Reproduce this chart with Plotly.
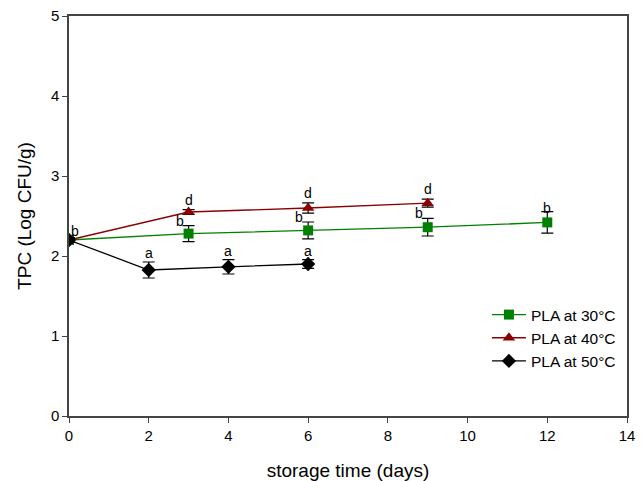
import plotly.graph_objects as go

# Data
days_30 = [0, 3, 6, 9, 12]
tpc_30 = [2.20, 2.28, 2.32, 2.36, 2.42]
err_30 = [0.03, 0.10, 0.105, 0.11, 0.135]
lab_30 = ["", "b", "b", "b", "b"]

days_40 = [0, 3, 6, 9]
tpc_40 = [2.20, 2.55, 2.60, 2.66]
err_40 = [0.03, 0.03, 0.065, 0.05]
lab_40 = ["b", "d", "d", "d"]

days_50 = [0, 2, 4, 6]
tpc_50 = [2.20, 1.825, 1.865, 1.90]
err_50 = [0.03, 0.10, 0.09, 0.055]
lab_50 = ["", "a", "a", "a"]

x_ticks = [0, 2, 4, 6, 8, 10, 12, 14]
y_ticks = [0, 1, 2, 3, 4, 5]

FONT = "Liberation Sans, Arial, sans-serif"

fig = go.Figure()

def add_series(x, y, e, name, color, symbol, size):
    fig.add_trace(go.Scatter(
        x=x, y=y, name=name, mode="lines+markers",
        line=dict(color=color, width=1.3),
        marker=dict(color=color, symbol=symbol, size=size, line=dict(width=0)),
        error_y=dict(type="data", array=e, visible=True, color="black",
                     thickness=1.2, width=6),
    ))

add_series(days_30, tpc_30, err_30, "PLA at 30°C", "#008000", "square", 10)
add_series(days_40, tpc_40, err_40, "PLA at 40°C", "#8B0000", "triangle-up", 11)
add_series(days_50, tpc_50, err_50, "PLA at 50°C", "black", "diamond", 11)

LETTER_FONT = dict(family=FONT, size=14, color="black")

for i, (xi, yi, ei, li) in enumerate(zip(days_30, tpc_30, err_30, lab_30)):
    if not li:
        continue
    last = i == len(days_30) - 1
    fig.add_annotation(x=xi, y=yi + ei, text=li, showarrow=False,
                       xref="x", yref="y", yanchor="bottom",
                       xshift=(0 if last else -9), yshift=(-6 if last else -5),
                       font=LETTER_FONT)
for i, (xi, yi, ei, li) in enumerate(zip(days_40, tpc_40, err_40, lab_40)):
    fig.add_annotation(x=xi, y=yi + ei, text=li, showarrow=False,
                       xref="x", yref="y", yanchor="bottom",
                       xshift=(6 if i == 0 else 0), yshift=(-3 if i == 0 else 0),
                       font=LETTER_FONT)
for xi, yi, ei, li in zip(days_50, tpc_50, err_50, lab_50):
    if not li:
        continue
    fig.add_annotation(x=xi, y=yi + ei, text=li, showarrow=False,
                       xref="x", yref="y", yanchor="bottom", yshift=-1,
                       font=LETTER_FONT)

axis_common = dict(
    showline=True, linecolor="#444444", linewidth=1.5, mirror=True,
    ticks="outside", ticklen=5, tickcolor="#444444", tickwidth=1,
    showgrid=False, zeroline=False, automargin=False,
    tickfont=dict(family=FONT, size=15, color="black"),
)

fig.update_layout(
    width=644, height=481,
    margin=dict(l=69, r=17, t=16, b=65),
    paper_bgcolor="white", plot_bgcolor="white",
    font=dict(family=FONT, color="black"),
    xaxis=dict(range=[0, 14], tickvals=x_ticks,
               title=dict(text="storage time (days)", font=dict(family=FONT, size=19), standoff=21),
               **axis_common),
    yaxis=dict(range=[0, 5], tickvals=y_ticks,
               title=dict(text="TPC (Log CFU/g)", font=dict(family=FONT, size=19), standoff=14),
               **axis_common),
    legend=dict(x=0.749, y=0.295, xanchor="left", yanchor="top",
                bgcolor="rgba(0,0,0,0)", font=dict(family=FONT, size=15.5),
                tracegroupgap=0, itemwidth=34),
    showlegend=True,
)

# remove the browser's default 8px body margin so the figure sits at the page corner
fig.write_html("out.html", config={"displayModeBar": False},
               post_script="document.body.style.margin='0';document.body.style.overflow='hidden';")
